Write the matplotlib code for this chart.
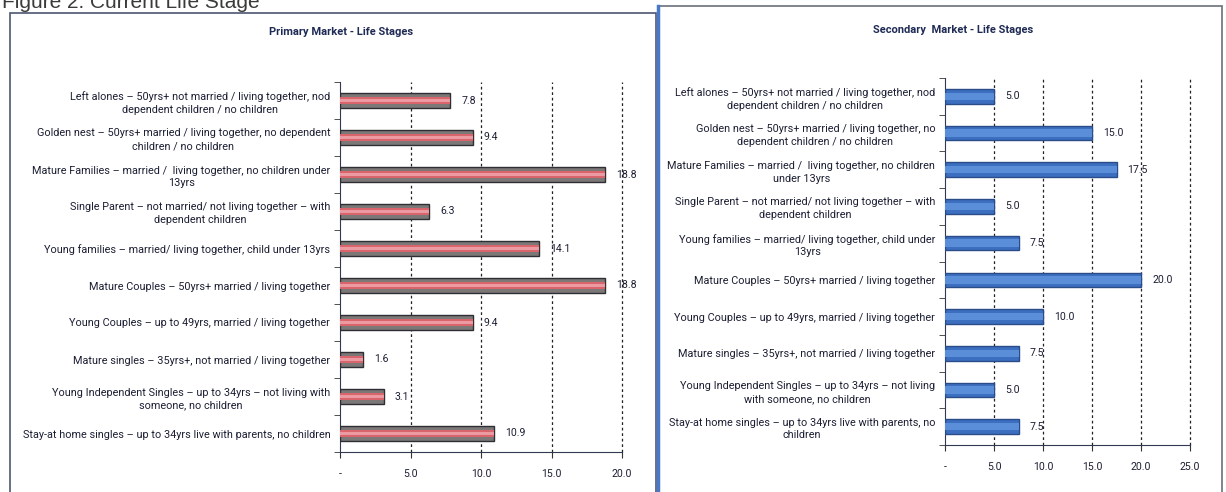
import matplotlib
matplotlib.use("Agg")
import matplotlib.pyplot as plt
from matplotlib.patches import Rectangle
from matplotlib.lines import Line2D
import numpy as np

plt.rcParams['font.family'] = ['Roboto', 'DejaVu Sans']

# ---------------- data ----------------
primary_labels = [
    "Left alones \u2013 50yrs+ not married / living together, nod\ndependent children / no children",
    "Golden nest \u2013 50yrs+ married / living together, no dependent\nchildren / no children",
    "Mature Families \u2013 married /  living together, no children under\n13yrs",
    "Single Parent \u2013 not married/ not living together \u2013 with\ndependent children",
    "Young families \u2013 married/ living together, child under 13yrs",
    "Mature Couples \u2013 50yrs+ married / living together",
    "Young Couples \u2013 up to 49yrs, married / living together",
    "Mature singles \u2013 35yrs+, not married / living together",
    "Young Independent Singles \u2013 up to 34yrs \u2013 not living with\nsomeone, no children",
    "Stay-at home singles \u2013 up to 34yrs live with parents, no children",
]
primary_values = [7.8, 9.4, 18.8, 6.3, 14.1, 18.8, 9.4, 1.6, 3.1, 10.9]

secondary_labels = [
    "Left alones \u2013 50yrs+ not married / living together, nod\ndependent children / no children",
    "Golden nest \u2013 50yrs+ married / living together, no\ndependent children / no children",
    "Mature Families \u2013 married /  living together, no children\nunder 13yrs",
    "Single Parent \u2013 not married/ not living together \u2013 with\ndependent children",
    "Young families \u2013 married/ living together, child under\n13yrs",
    "Mature Couples \u2013 50yrs+ married / living together",
    "Young Couples \u2013 up to 49yrs, married / living together",
    "Mature singles \u2013 35yrs+, not married / living together",
    "Young Independent Singles \u2013 up to 34yrs \u2013 not living\nwith someone, no children",
    "Stay-at home singles \u2013 up to 34yrs live with parents, no\nchildren",
]
secondary_values = [5.0, 15.0, 17.5, 5.0, 7.5, 20.0, 10.0, 7.5, 5.0, 7.5]

primary_ticks = [0, 5, 10, 15, 20]
primary_ticklabels = ["-", "5.0", "10.0", "15.0", "20.0"]
secondary_ticks = [0, 5, 10, 15, 20, 25]
secondary_ticklabels = ["-", "5.0", "10.0", "15.0", "20.0", "25.0"]

fig_title = "Figure 2: Current Life Stage"
primary_title = "Primary Market - Life Stages"
secondary_title = "Secondary  Market - Life Stages"

# ---------------- figure ----------------
W, H = 1226, 492
fig = plt.figure(figsize=(W / 100, H / 100), dpi=100)
fig.patch.set_facecolor('white')

def fx(px):
    return px / W

def fy(py):
    return 1 - py / H

# panel frames
fig.add_artist(Rectangle((fx(10), fy(520)), fx(656) - fx(10), fy(13) - fy(520),
                         transform=fig.transFigure, fill=False,
                         edgecolor='#4d5670', lw=1.2))
fig.add_artist(Rectangle((fx(658), fy(520)), fx(1222) - fx(658), fy(6) - fy(520),
                         transform=fig.transFigure, fill=False,
                         edgecolor='#6a6f7a', lw=1.2))
fig.add_artist(Line2D([fx(658), fx(658)], [fy(6), 0], transform=fig.transFigure,
                      color='#4a78c8', lw=2.5))

# figure title partially cut at top
fig.text(fx(2), fy(8), fig_title, fontsize=15, color='#3a3a3a',
         family=['Liberation Sans', 'DejaVu Sans'], va='baseline', ha='left')

text_color = '#1c1f33'
lab_fs = 7.8


def draw_panel(rect, labels, values, ticks, ticklabels, xmax, style):
    ax = fig.add_axes(rect)
    y = np.arange(len(values))
    if style == 'red':
        bars = ax.barh(y, values, height=0.42, color='#7d7878',
                       edgecolor='#2e2e35', linewidth=1.0, zorder=3)
        ax.barh(y, values, height=0.2, color='#d9646b', linewidth=0, zorder=4)
        ax.barh(y, values, height=0.06, color='#ea9aa0', linewidth=0, zorder=5)
    else:
        bars = ax.barh(y, values, height=0.4, color='#3c6fc0',
                       edgecolor='#2a4d8a', linewidth=1.0, zorder=3)
        ax.barh(y, values, height=0.2, color='#5a8ed8', linewidth=0, zorder=4)
    ax.bar_label(bars, labels=[f"{v:.1f}" for v in values], padding=8,
                 fontsize=7.6, color=text_color)
    ax.set_xlim(0, xmax)
    ax.set_ylim(len(values) - 0.5, -0.5)
    ax.set_yticks(y)
    ax.set_yticklabels(labels, fontsize=lab_fs, color=text_color,
                       linespacing=1.35)
    for lbl in ax.get_yticklabels():
        lbl.set_multialignment('center')
    ax.tick_params(axis='y', which='major', length=0, pad=7)
    ax.set_yticks(np.arange(len(values) + 1) - 0.5, minor=True)
    ax.tick_params(axis='y', which='minor', length=4, color='#333333', direction='out')
    ax.set_xticks(ticks)
    ax.set_xticklabels(ticklabels, fontsize=7.6, color=text_color)
    ax.tick_params(axis='x', length=4, color='#333333', pad=8)
    for t in ticks[1:]:
        ax.axvline(t, color='#222222', lw=0.9, ls=(0, (2.2, 2.2)), zorder=1,
                   clip_on=False)
    for s in ['top', 'right']:
        ax.spines[s].set_visible(False)
    ax.spines['left'].set_color('#333a50')
    ax.spines['bottom'].set_color('#333a50')
    ax.set_facecolor('none')
    return ax


axL = draw_panel([fx(340), fy(452), fx(622) - fx(340), fy(82) - fy(452)],
                 primary_labels, primary_values, primary_ticks, primary_ticklabels, 20, 'red')
axR = draw_panel([fx(945), fy(445), fx(1190) - fx(945), fy(78) - fy(445)],
                 secondary_labels, secondary_values, secondary_ticks, secondary_ticklabels, 25, 'blue')

fig.text(fx(341), fy(32), primary_title, fontsize=8.0, fontweight='bold',
         color='#1f2b55', ha='center', va='center')
fig.text(fx(953), fy(30), secondary_title, fontsize=8.0, fontweight='bold',
         color='#1f2b55', ha='center', va='center')

fig.savefig("out.png", dpi=100)
